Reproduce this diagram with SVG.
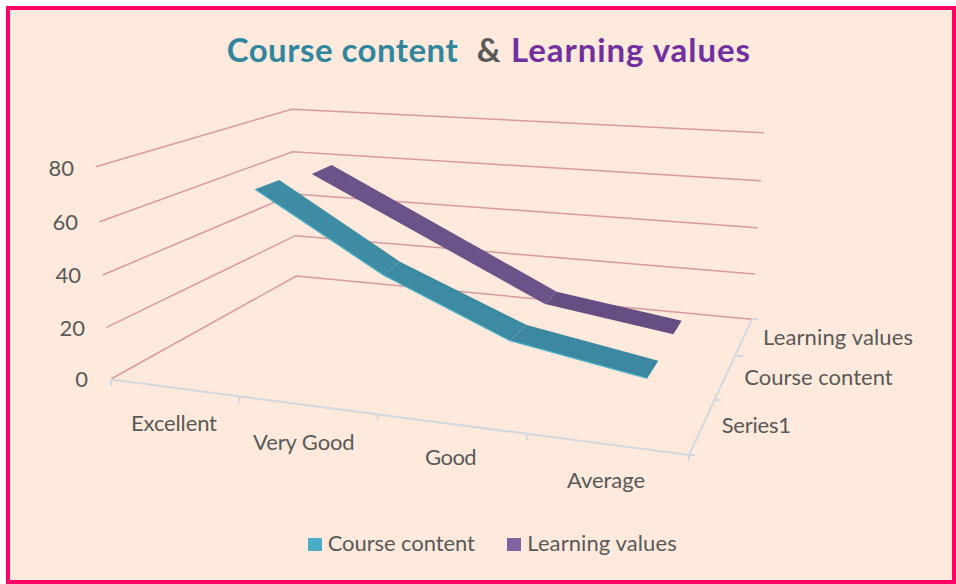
<svg xmlns="http://www.w3.org/2000/svg" width="956" height="584" viewBox="0 0 956 584">
<style>
.lbl{font-family:Lato,"Liberation Sans",sans-serif;font-size:22px;fill:#595959}
.grid{fill:none;stroke:#D99A9D;stroke-width:1.5}
.axis{fill:none;stroke:#D3D8DE;stroke-width:2}
.title{font-family:Lato,"Liberation Sans",sans-serif;font-size:33px;font-weight:bold}
</style>
<rect x="8" y="8" width="946" height="574" fill="#FDEADC" stroke="#FF0066" stroke-width="4"/>
<text class="title" y="62"><tspan x="226.7" fill="#31869E" textLength="231">Course content</tspan><tspan x="476.7" fill="#595959">&amp;</tspan><tspan x="511" fill="#7030A0" textLength="239">Learning values</tspan></text>
<g id="gridlines">
<polyline class="grid" points="95.7,166.7 291.7,109.3 764,132.7"/>
<polyline class="grid" points="99.7,221.7 292.7,151.7 761,180.7"/>
<polyline class="grid" points="102.7,275 294,194 757.7,227.7"/>
<polyline class="grid" points="106,327.7 295.3,235.7 754.7,274"/>
<polyline class="grid" points="111,379 296.3,276 751.7,319.3"/>
</g>
<g id="axes">
<polyline class="axis" points="111,379.5 689,455 752,319.3"/>
<path class="axis" d="M111,380v6M239.3,396.5v6M377.7,414.6v6M526.7,434v6M689,455v6M689,455h6M715,400h6M736.7,356h6M752,319.3h6"/>
</g>
<g id="series-course-content">
<polygon points="255,189.3 279.3,180 400,261.7 383.3,275" fill="#3E8DA5"/>
<polygon points="383.3,275 400,261.7 526.7,325 510,340.7" fill="#3D8BA3"/>
<polygon points="510,340.7 526.7,325 658.3,360.7 647.3,378.3" fill="#3C88A0"/>
<polyline points="255,189.3 383.3,275 510,340.7 647.3,378.3" fill="none" stroke="#4DB3CC" stroke-width="1.2"/>
</g>
<g id="series-learning-values">
<polygon points="311.7,174 331.7,165 556.7,291.7 545,304" fill="#6A5388"/>
<polygon points="545,304 556.7,291.7 681.7,320.7 673.3,334.3" fill="#654E82"/>
</g>
<g id="value-axis-labels" class="lbl" text-anchor="end">
<text x="74" y="176">80</text>
<text x="78" y="230">60</text>
<text x="81" y="283">40</text>
<text x="85" y="336">20</text>
<text x="88" y="387">0</text>
</g>
<g id="category-labels" class="lbl">
<text x="131" y="431" textLength="86">Excellent</text>
<text x="253" y="450" textLength="101.7">Very Good</text>
<text x="425" y="465" textLength="51.7">Good</text>
<text x="567" y="488" textLength="78">Average</text>
</g>
<g id="series-labels" class="lbl">
<text x="763" y="345" textLength="150">Learning values</text>
<text x="744.3" y="385" textLength="148.4">Course content</text>
<text x="721.7" y="433" textLength="69.3">Series1</text>
</g>
<g id="legend">
<rect x="308" y="538" width="14" height="13" fill="#4BACC6"/>
<text class="lbl" x="327.7" y="551" textLength="147.3">Course content</text>
<rect x="507" y="538" width="14" height="13" fill="#8064A2"/>
<text class="lbl" x="527.3" y="551" textLength="149.4">Learning values</text>
</g>
</svg>
